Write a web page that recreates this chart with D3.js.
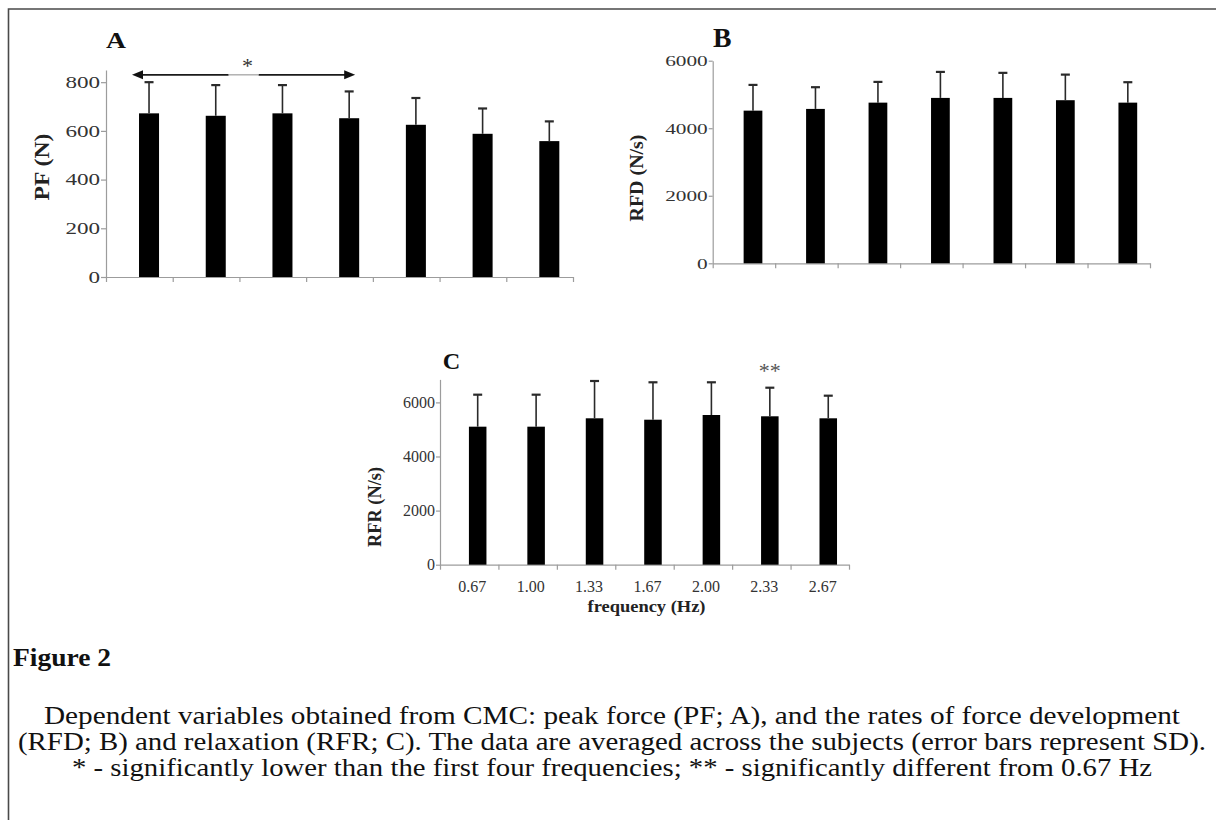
<!DOCTYPE html>
<html>
<head>
<meta charset="utf-8">
<script src="https://cdn.jsdelivr.net/npm/d3@7"></script>
<style>
    body { margin: 0; background: #fff; }
    svg text { font-family: "Liberation Serif", "Times New Roman", serif; }
</style>
</head>
<body>
<svg class="svg_fig" width="1216" height="820"></svg>
<script>
// values (means and SD per stimulation frequency)
var categories = ["0.67", "1.00", "1.33", "1.67", "2.00", "2.33", "2.67"];
var pfMean  = [672, 662, 672, 652, 625, 588, 558];
var pfSD    = [128, 126, 116, 110, 110, 104, 81];
var rfdMean = [4521, 4572, 4758, 4898, 4898, 4830, 4758];
var rfdSD   = [762, 643, 614, 770, 742, 758, 605];
var rfrMean = [5102, 5102, 5412, 5360, 5534, 5486, 5412];
var rfrSD   = [1183, 1183, 1379, 1383, 1209, 1057, 836];
var pfTicks  = [0, 200, 400, 600, 800];
var rfdTicks = [0, 2000, 4000, 6000];
var rfrTicks = [0, 2000, 4000, 6000];
var captionTitle = "Figure 2";
var captionLines = [
    "Dependent variables obtained from CMC: peak force (PF; A), and the rates of force development",
    "(RFD; B) and relaxation (RFR; C). The data are averaged across the subjects (error bars represent SD).",
    "* - significantly lower than the first four frequencies; ** - significantly different from 0.67 Hz"
];

var svg = d3.select(".svg_fig");

// frame (cut off at right and bottom like the original scan)
svg.append("path")
    .attr("d", "M8.5,820V9H1216")
    .attr("fill", "none")
    .attr("stroke", "#4a4a4a")
    .attr("stroke-width", 1.6);

function drawPanel(p) {
    var g = svg.append("g");

    var x = d3.scaleBand().domain(categories).range([p.left, p.right]).padding(0);
    var xEdge = d3.scaleLinear().domain([0, categories.length]).range([p.left, p.right]);
    var y = d3.scaleLinear().domain([0, p.yMax]).range([p.bottom, p.top]);

    var barW = x.bandwidth() * 0.3;
    var cx = function(i) { return x(categories[i]) + x.bandwidth() * 0.645; };

    // y axis
    var ya = g.append("g")
        .attr("transform", "translate(" + p.left + ",0)")
        .call(d3.axisLeft(y).tickValues(p.ticks).tickFormat(d3.format("d"))
            .tickSize(p.tickSize).tickPadding(p.tickPad).tickSizeOuter(0));
    ya.selectAll("text")
        .style("font-size", p.tickFont + "px")
        .attr("fill", "#333")
        .attr("transform", "scale(" + p.stretch + ",1)")
        .attr("x", function() { return +d3.select(this).attr("x") / p.stretch; });

    // x axis with ticks between the categories
    g.append("g")
        .attr("transform", "translate(0," + p.bottom + ")")
        .call(d3.axisBottom(xEdge).tickValues(d3.range(categories.length + 1)).tickFormat("").tickSize(5).tickSizeOuter(0));

    g.selectAll(".domain, .tick line").attr("stroke", "#9c9c9c").attr("stroke-width", 1.2);

    if (p.labels) {
        var xl = g.append("g")
            .attr("transform", "translate(3," + p.bottom + ")")
            .call(d3.axisBottom(x).tickSize(0).tickPadding(16));
        xl.select(".domain").remove();
        xl.selectAll("text").style("font-size", "16px").attr("fill", "#333");

        g.append("text")
            .attr("x", (p.left + p.right) / 2 + 2)
            .attr("y", p.bottom + 47)
            .attr("text-anchor", "middle")
            .attr("font-weight", "bold")
            .style("font-size", "17px")
            .attr("textLength", 118)
            .attr("lengthAdjust", "spacingAndGlyphs")
            .attr("fill", "#222")
            .text("frequency (Hz)");
    }

    var data = p.mean.map(function(m, i) { return {i: i, mean: m, sd: p.sd[i]}; });

    // bars
    g.selectAll("rect.bar")
        .data(data)
      .enter().append("rect")
        .attr("class", "bar")
        .attr("x", function(d) { return cx(d.i) - barW / 2; })
        .attr("width", barW)
        .attr("y", function(d) { return y(d.mean); })
        .attr("height", function(d) { return p.bottom - y(d.mean); })
        .attr("fill", "#000");

    // error bars (upper half only, the rest is hidden in the bar)
    g.selectAll("line.err")
        .data(data)
      .enter().append("line")
        .attr("class", "err")
        .attr("x1", function(d) { return cx(d.i); })
        .attr("x2", function(d) { return cx(d.i); })
        .attr("y1", function(d) { return y(d.mean); })
        .attr("y2", function(d) { return y(d.mean + d.sd); })
        .attr("stroke", "#2a2a2a")
        .attr("stroke-width", 1.6);
    g.selectAll("line.cap")
        .data(data)
      .enter().append("line")
        .attr("class", "cap")
        .attr("x1", function(d) { return cx(d.i) - 4.5; })
        .attr("x2", function(d) { return cx(d.i) + 4.5; })
        .attr("y1", function(d) { return y(d.mean + d.sd); })
        .attr("y2", function(d) { return y(d.mean + d.sd); })
        .attr("stroke", "#2a2a2a")
        .attr("stroke-width", 2.2);

    // panel letter
    g.append("text")
        .attr("x", p.letterX)
        .attr("y", p.letterY)
        .attr("font-weight", "bold")
        .style("font-size", p.letterSize + "px")
        .attr("textLength", p.letterLen)
        .attr("lengthAdjust", "spacingAndGlyphs")
        .attr("fill", "#111")
        .text(p.letter);

    // y title
    g.append("text")
        .attr("transform", "translate(" + p.titleX + "," + p.titleY + ") rotate(-90)")
        .attr("text-anchor", "middle")
        .attr("dy", "0.34em")
        .attr("font-weight", "bold")
        .style("font-size", p.titleSize + "px")
        .attr("textLength", p.titleLen)
        .attr("lengthAdjust", "spacingAndGlyphs")
        .attr("fill", "#222")
        .text(p.title);

    return {x: x, y: y, cx: cx, g: g};
}

var pA = drawPanel({
    left: 106, right: 573, bottom: 277, top: 70, yMax: 850, ticks: pfTicks,
    mean: pfMean, sd: pfSD, tickSize: 5, tickPad: 1, tickFont: 16.5, stretch: 1.4, labels: false,
    letter: "A", letterX: 106, letterY: 48, letterSize: 23, letterLen: 20,
    title: "PF (N)", titleX: 42, titleY: 167, titleSize: 20, titleLen: 67
});

var pB = drawPanel({
    left: 712.7, right: 1150, bottom: 263.3, top: 60.7, yMax: 6000, ticks: rfdTicks,
    mean: rfdMean, sd: rfdSD, tickSize: 4, tickPad: 1, tickFont: 15, stretch: 1.42, labels: false,
    letter: "B", letterX: 713, letterY: 46.7, letterSize: 27, letterLen: 18.5,
    title: "RFD (N/s)", titleX: 637, titleY: 178, titleSize: 19, titleLen: 87
});

var pC = drawPanel({
    left: 440, right: 849, bottom: 564.7, top: 379.4, yMax: 6850, ticks: rfrTicks,
    mean: rfrMean, sd: rfrSD, tickSize: 4, tickPad: 1, tickFont: 16, stretch: 1, labels: true,
    letter: "C", letterX: 442.7, letterY: 369.3, letterSize: 24, letterLen: 17.5,
    title: "RFR (N/s)", titleX: 375, titleY: 507, titleSize: 18.5, titleLen: 80
});

// significance: double arrow over the first four frequencies in A
var arrY = pA.y(830);
var arrL = pA.x(categories[0]) + pA.x.bandwidth() * 0.39;
var arrR = pA.x(categories[3]) + pA.x.bandwidth() * 0.735;
var arrM = (arrL + arrR) / 2;
pA.g.append("line")
    .attr("x1", arrL + 8).attr("x2", arrM - 15).attr("y1", arrY).attr("y2", arrY)
    .attr("stroke", "#1a1a1a").attr("stroke-width", 1.6);
pA.g.append("line")
    .attr("x1", arrM + 15).attr("x2", arrR - 8).attr("y1", arrY).attr("y2", arrY)
    .attr("stroke", "#1a1a1a").attr("stroke-width", 1.6);
pA.g.append("line")
    .attr("x1", arrM - 15).attr("x2", arrM + 15).attr("y1", arrY).attr("y2", arrY)
    .attr("stroke", "#8a8a8a").attr("stroke-width", 1);
pA.g.append("path")
    .attr("d", "M" + arrL + "," + arrY + "l11,-4.5v9z")
    .attr("fill", "#111");
pA.g.append("path")
    .attr("d", "M" + arrR + "," + arrY + "l-11,-4.5v9z")
    .attr("fill", "#111");
pA.g.append("text")
    .attr("x", arrM + 4)
    .attr("y", arrY - 2)
    .attr("text-anchor", "middle")
    .style("font-size", "22px")
    .attr("fill", "#333")
    .text("*");

// ** over 2.33 Hz in C
pC.g.append("text")
    .attr("x", pC.cx(5))
    .attr("y", pC.y(rfrMean[5] + rfrSD[5]) - 10)
    .attr("text-anchor", "middle")
    .style("font-size", "22px")
    .attr("fill", "#555")
    .text("**");

// caption
svg.append("text")
    .attr("x", 13)
    .attr("y", 665.5)
    .attr("font-weight", "bold")
    .style("font-size", "26px")
    .attr("textLength", 98)
    .attr("lengthAdjust", "spacingAndGlyphs")
    .attr("fill", "#111")
    .text(captionTitle);

var capWidths = [1136, 1188, 1080];
svg.selectAll("text.cap")
    .data(captionLines)
  .enter().append("text")
    .attr("class", "cap")
    .attr("x", 612)
    .attr("y", function(d, i) { return 724 + i * 26; })
    .attr("text-anchor", "middle")
    .style("font-size", "25px")
    .attr("textLength", function(d, i) { return capWidths[i]; })
    .attr("lengthAdjust", "spacingAndGlyphs")
    .attr("fill", "#111")
    .text(function(d) { return d; });
</script>
</body>
</html>
